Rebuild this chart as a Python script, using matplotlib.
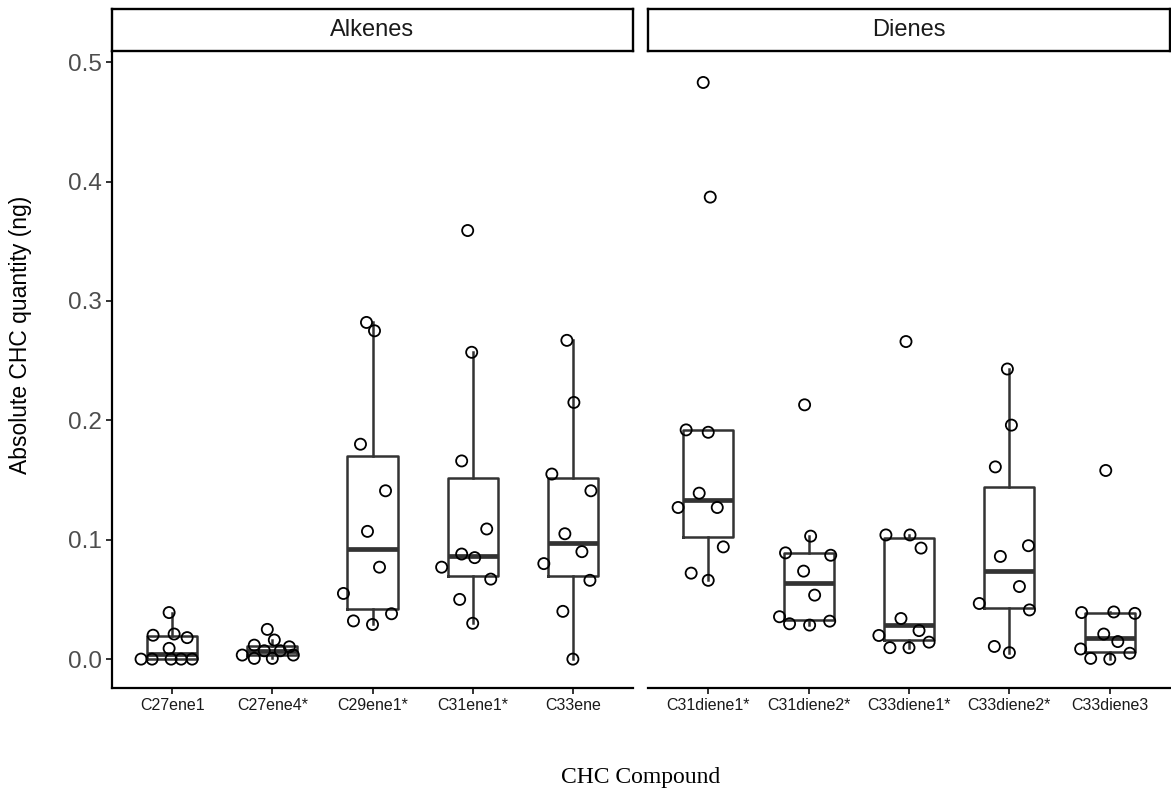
import matplotlib.pyplot as plt
import numpy as np

plt.rcParams['font.family'] = ['Liberation Sans', 'DejaVu Sans']

# compound names per facet
alkene_names = ["C27ene1", "C27ene4*", "C29ene1*", "C31ene1*", "C33ene"]
diene_names = ["C31diene1*", "C31diene2*", "C33diene1*", "C33diene2*", "C33diene3"]

# absolute quantities (ng), with the horizontal jitter seen
c27ene1 = [0, 0, 0, 0, 0, 0.020, 0.021, 0.018, 0.009, 0.039]
c27ene1_dx = [-0.31, -0.20, -0.01, 0.09, 0.20, -0.19, 0.02, 0.15, -0.03, -0.03]
c27ene4 = [0.0034, 0.0117, 0.0006, 0.0249, 0.016, 0.0006, 0.0103, 0.0034, 0.007, 0.007]
c27ene4_dx = [-0.30, -0.18, -0.18, -0.05, 0.02, 0.00, 0.17, 0.21, -0.08, 0.08]
c29ene1 = [0.282, 0.275, 0.180, 0.141, 0.107, 0.077, 0.055, 0.032, 0.029, 0.038]
c29ene1_dx = [-0.06, 0.02, -0.12, 0.13, -0.05, 0.07, -0.29, -0.19, 0.00, 0.19]
c31ene1 = [0.359, 0.257, 0.166, 0.109, 0.088, 0.085, 0.077, 0.067, 0.050, 0.030]
c31ene1_dx = [-0.05, -0.01, -0.11, 0.14, -0.11, 0.02, -0.31, 0.18, -0.13, 0.00]
c33ene = [0.267, 0.215, 0.155, 0.141, 0.105, 0.090, 0.080, 0.066, 0.040, 0.0]
c33ene_dx = [-0.06, 0.01, -0.21, 0.18, -0.08, 0.09, -0.29, 0.17, -0.10, 0.00]

c31diene1 = [0.483, 0.387, 0.192, 0.190, 0.139, 0.127, 0.127, 0.094, 0.072, 0.066]
c31diene1_dx = [-0.05, 0.02, -0.22, 0.00, -0.09, -0.30, 0.09, 0.15, -0.17, 0.00]
c31diene2 = [0.213, 0.103, 0.089, 0.087, 0.0737, 0.0536, 0.0355, 0.0296, 0.0285, 0.0318]
c31diene2_dx = [-0.04, 0.02, -0.23, 0.22, -0.05, 0.06, -0.29, -0.19, 0.01, 0.21]
c33diene1 = [0.266, 0.104, 0.104, 0.093, 0.034, 0.0239, 0.0198, 0.0142, 0.0096, 0.0096]
c33diene1_dx = [-0.03, -0.23, 0.01, 0.12, -0.08, 0.10, -0.30, 0.20, -0.19, 0.00]
c33diene2 = [0.243, 0.196, 0.161, 0.095, 0.086, 0.0608, 0.0466, 0.0412, 0.0106, 0.0054]
c33diene2_dx = [-0.02, 0.02, -0.14, 0.19, -0.09, 0.10, -0.30, 0.20, -0.15, 0.00]
c33diene3 = [0.158, 0.039, 0.0395, 0.0383, 0.021, 0.0147, 0.0085, 0.0006, 0.0, 0.0049]
c33diene3_dx = [-0.04, -0.28, 0.04, 0.25, -0.06, 0.08, -0.29, -0.19, 0.00, 0.20]

alkenes = [c27ene1, c27ene4, c29ene1, c31ene1, c33ene]
alkenes_dx = [c27ene1_dx, c27ene4_dx, c29ene1_dx, c31ene1_dx, c33ene_dx]
dienes = [c31diene1, c31diene2, c33diene1, c33diene2, c33diene3]
dienes_dx = [c31diene1_dx, c31diene2_dx, c33diene1_dx, c33diene2_dx, c33diene3_dx]

W, H = 1171, 796
fig = plt.figure(figsize=(W / 100, H / 100), dpi=100)

py0 = (H - 688) / H
ph = (688 - 52.4) / H
ax1 = fig.add_axes([112 / W, py0, 521 / W, ph])
ax2 = fig.add_axes([648 / W, py0, 522 / W, ph])

line_c = '#333333'
panels = [(ax1, alkenes, alkenes_dx, alkene_names, 'Alkenes'),
          (ax2, dienes, dienes_dx, diene_names, 'Dienes')]

for ax, vals, dxs, names, title in panels:
    pos = np.arange(1, len(vals) + 1)
    ax.boxplot(vals, positions=pos, widths=0.5, whis=1.5,
               showfliers=False, showcaps=False,
               boxprops=dict(color=line_c, linewidth=1.8),
               whiskerprops=dict(color=line_c, linewidth=1.8),
               medianprops=dict(color=line_c, linewidth=3.4))
    for p, v, dx in zip(pos, vals, dxs):
        ax.scatter(p + np.array(dx), v, s=64, facecolors='none',
                   edgecolors='black', linewidths=1.3, zorder=3, clip_on=False)
    ax.set_xlim(0.4, 5.6)
    ax.set_ylim(-0.0242, 0.5082)
    ax.set_xticks(pos)
    ax.set_xticklabels(names, fontsize=11.5, color='#1a1a1a')
    ax.spines['top'].set_visible(False)
    ax.spines['right'].set_visible(False)
    ax.spines['bottom'].set_linewidth(1.6)
    ax.spines['left'].set_linewidth(1.6)
    ax.tick_params(axis='both', length=4, width=1.4, color=line_c, pad=3)

    # facet strip
    bb = ax.get_position()
    sx = fig.add_axes([bb.x0, (H - 51) / H, bb.width, 42 / H])
    sx.set_xticks([])
    sx.set_yticks([])
    for s in sx.spines.values():
        s.set_linewidth(1.7)
        s.set_color('black')
    sx.text(0.5, 0.5, title, ha='center', va='center', fontsize=17,
            color='#1a1a1a', transform=sx.transAxes)

ax1.set_yticks([0.0, 0.1, 0.2, 0.3, 0.4, 0.5])
ax1.set_yticklabels(['0.0', '0.1', '0.2', '0.3', '0.4', '0.5'],
                    fontsize=17.5, color='#4D4D4D')
ax2.set_yticks([0.0, 0.1, 0.2, 0.3, 0.4, 0.5])
ax2.tick_params(axis='y', left=False, labelleft=False)
ax2.spines['left'].set_visible(False)

fig.text(21 / W, 1 - 335 / H, 'Absolute CHC quantity (ng)', rotation=90,
         ha='center', va='center', fontsize=16.5, color='black')
fig.text(641 / W, 1 - 778 / H, 'CHC Compound', ha='center', va='center',
         fontsize=17, family='Liberation Serif', color='black')

fig.savefig('out.png', dpi=100)
